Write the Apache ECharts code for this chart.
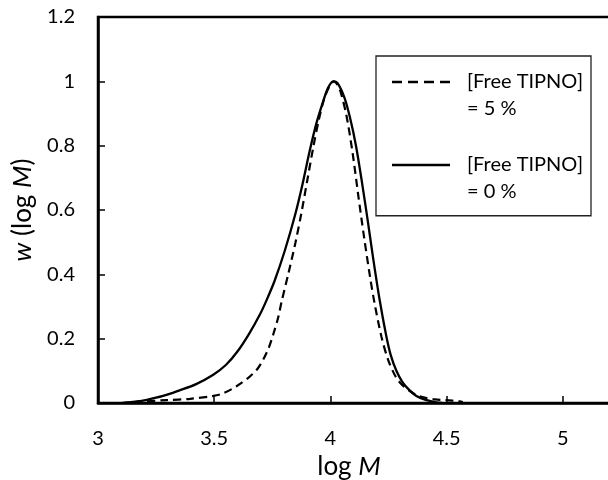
<!DOCTYPE html>
<html>
<head>
<meta charset="utf-8">
<script src="https://cdn.jsdelivr.net/npm/echarts@6/dist/echarts.min.js"></script>
<style>html,body{margin:0;padding:0;background:#fff}#c{width:608px;height:480px}</style>
</head>
<body>
<div id="c"></div>
<script>
// log M values and w(log M) values
var dashX = [3.10, 3.18, 3.295, 3.396, 3.496, 3.539, 3.596, 3.653, 3.685, 3.711, 3.735, 3.754, 3.775, 3.79, 3.82, 3.85, 3.875, 3.90, 3.925, 3.95, 3.975, 4.0, 4.015, 4.03, 4.045, 4.07, 4.095, 4.12, 4.145, 4.17, 4.19, 4.22, 4.248, 4.28, 4.31, 4.34, 4.37, 4.41, 4.45, 4.50, 4.53, 4.556, 4.57];
var dashY = [0, 0.004, 0.009, 0.013, 0.022, 0.030, 0.052, 0.082, 0.105, 0.135, 0.172, 0.213, 0.265, 0.315, 0.405, 0.50, 0.59, 0.69, 0.79, 0.88, 0.95, 0.99, 1.0, 0.99, 0.965, 0.89, 0.78, 0.645, 0.515, 0.395, 0.31, 0.205, 0.135, 0.083, 0.055, 0.038, 0.025, 0.016, 0.011, 0.009, 0.007, 0.005, 0.003];
var solidX = [3.11, 3.16, 3.21, 3.28, 3.353, 3.42, 3.496, 3.55, 3.60, 3.65, 3.70, 3.725, 3.76, 3.804, 3.85, 3.88, 3.911, 3.94, 3.97, 3.99, 4.012, 4.03, 4.06, 4.085, 4.11, 4.135, 4.16, 4.185, 4.212, 4.24, 4.26, 4.284, 4.31, 4.34, 4.37, 4.41, 4.45, 4.48];
var solidY = [0, 0.004, 0.01, 0.022, 0.04, 0.058, 0.088, 0.118, 0.16, 0.215, 0.28, 0.319, 0.38, 0.474, 0.59, 0.68, 0.784, 0.87, 0.94, 0.98, 1.0, 0.995, 0.95, 0.885, 0.80, 0.69, 0.57, 0.445, 0.32, 0.21, 0.148, 0.10, 0.065, 0.04, 0.022, 0.01, 0.003, 0];
var seriesNames = ['[Free TIPNO]\n= 5 %', '[Free TIPNO]\n= 0 %'];
var xTicks = [3, 3.5, 4, 4.5, 5];
var yTicks = [0, 0.2, 0.4, 0.6, 0.8, 1, 1.2];

function zip(xs, ys) { return xs.map(function (x, i) { return [x, ys[i]]; }); }

var dashIcon = 'path://M0 0h0.1v0.1h-0.1z M0 12h10v2.5h-10z M16 12h10v2.5h-10z M32 12h10v2.5h-10z M48 12h10v2.5h-10z M57.9 52.9h0.1v0.1h-0.1z';
var solidIcon = 'path://M0 0h0.1v0.1h-0.1z M0 12h58v2.5h-58z M57.9 52.9h0.1v0.1h-0.1z';

var chart = echarts.init(document.getElementById('c'), null, {renderer: 'canvas'});
chart.setOption({
  animation: false,
  backgroundColor: '#fff',
  textStyle: {fontFamily: 'Lato', color: '#000'},
  grid: {left: 98, width: 581, top: 17, height: 386, outerBoundsMode: 'none', containLabel: false,
    show: true, borderColor: '#000', borderWidth: 2.5, backgroundColor: 'transparent'},
  xAxis: {
    type: 'value', min: xTicks[0], max: 5.5, interval: 0.5,
    name: 'log {i|M}', nameLocation: 'middle', nameGap: 49,
    nameTextStyle: {fontSize: 26, color: '#000', fontFamily: 'Lato', padding: [0, 79, 0, 0],
      rich: {i: {fontSize: 26, fontStyle: 'italic', fontFamily: 'Lato', color: '#000'}}},
    axisLine: {lineStyle: {color: '#000', width: 2.5}},
    axisTick: {inside: true, length: 7, lineStyle: {color: '#000', width: 1.5}},
    axisLabel: {fontSize: 20, color: '#000', margin: 26, fontFamily: 'Lato',
      formatter: function (v) { return xTicks.indexOf(v) >= 0 ? String(v) : ''; }},
    splitLine: {show: false}
  },
  yAxis: {
    type: 'value', min: yTicks[0], max: yTicks[yTicks.length - 1], interval: 0.2,
    name: '{i|w} (log {i|M})', nameLocation: 'middle', nameGap: 62,
    nameTextStyle: {fontSize: 26, color: '#000', fontFamily: 'Lato',
      rich: {i: {fontSize: 26, fontStyle: 'italic', fontFamily: 'Lato', color: '#000'}}},
    axisLine: {show: true, lineStyle: {color: '#000', width: 2.5}},
    axisTick: {show: true, inside: true, length: 7, lineStyle: {color: '#000', width: 1.5}},
    axisLabel: {fontSize: 20, color: '#000', margin: 23, fontFamily: 'Lato'},
    splitLine: {show: false}
  },
  legend: {
    orient: 'vertical', left: 376, top: 56,
    padding: [12.75, 8, 11, 16], itemGap: 30, itemWidth: 58, itemHeight: 53,
    borderColor: '#222', borderWidth: 1.3, backgroundColor: '#fff',
    selectedMode: false,
    itemStyle: {borderWidth: 0, color: '#000'},
    textStyle: {fontSize: 20, lineHeight: 26.5, color: '#000', fontFamily: 'Lato', padding: [0, 0, 0, 12]},
    data: [{name: seriesNames[0], icon: dashIcon}, {name: seriesNames[1], icon: solidIcon}]
  },
  series: [
    {name: seriesNames[0], type: 'line', data: zip(dashX, dashY), symbol: 'none', smooth: 0.3,
      color: '#000', lineStyle: {color: '#000', width: 2.2, type: [8, 5]}, z: 3},
    {name: seriesNames[1], type: 'line', data: zip(solidX, solidY), symbol: 'none', smooth: 0.3,
      color: '#000', lineStyle: {color: '#000', width: 2.3, type: 'solid'}, z: 2}
  ]
});
</script>
</body>
</html>
